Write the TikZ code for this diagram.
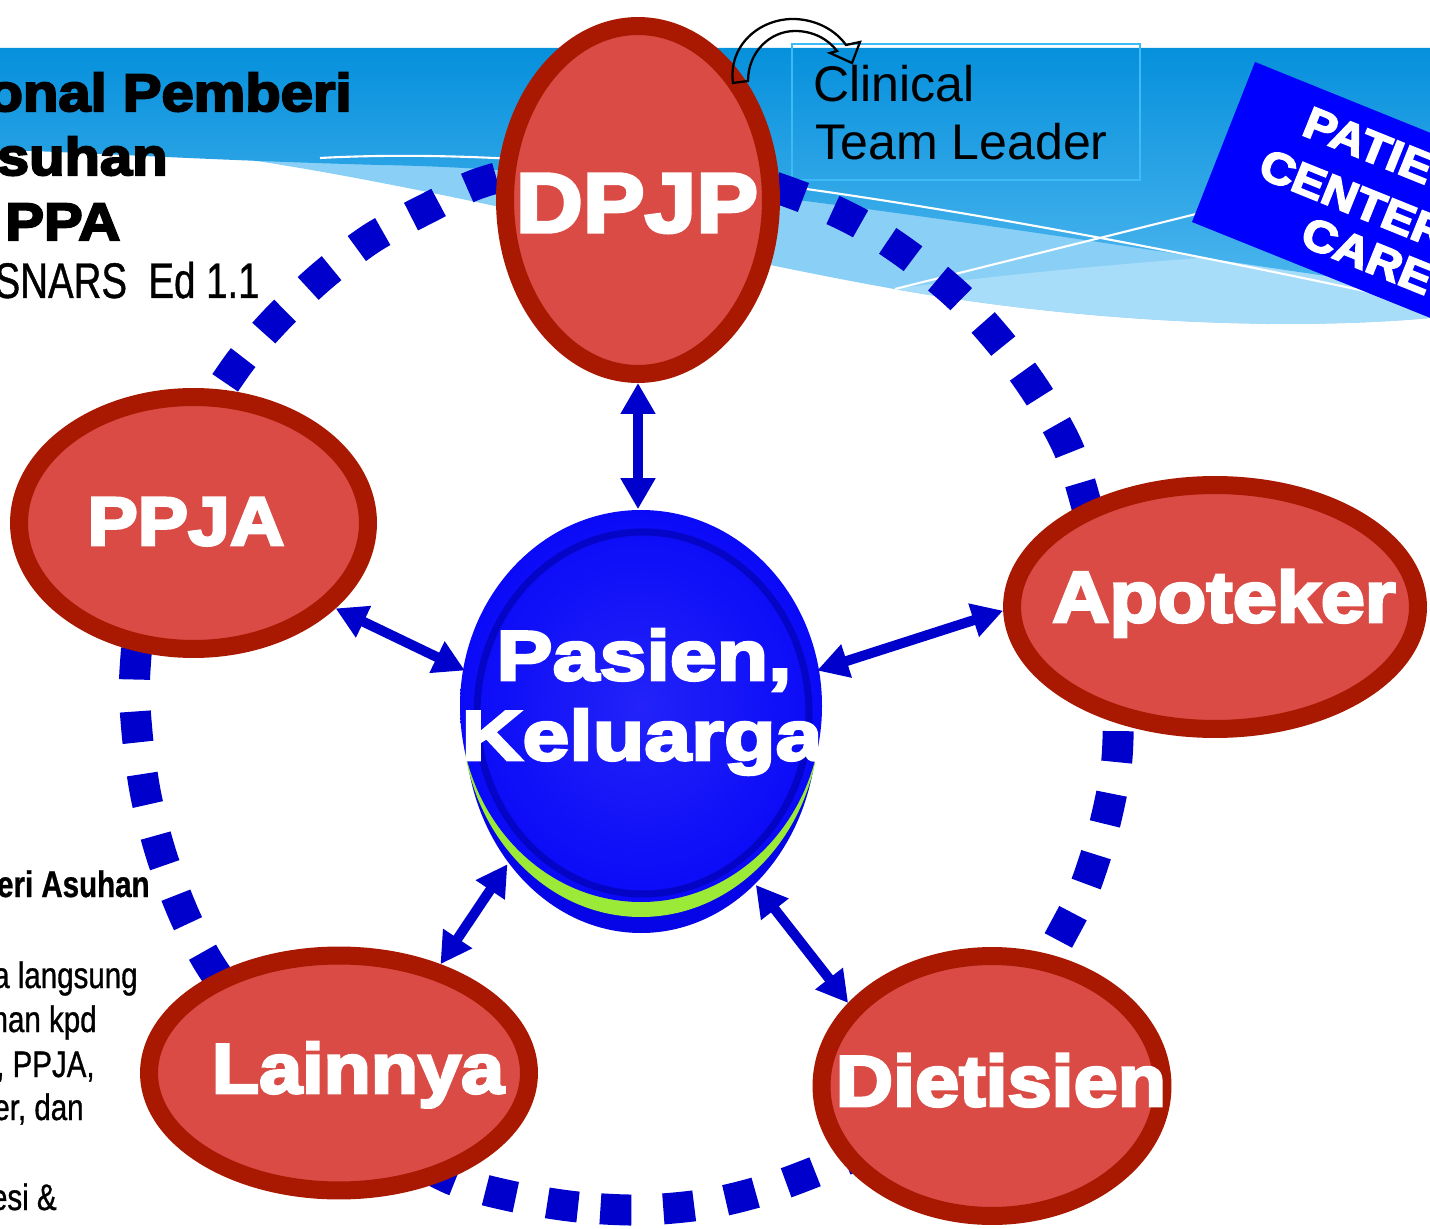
\documentclass[tikz,border=0pt]{standalone}
\usepackage{fontspec}
\setmainfont{Liberation Sans}
\newfontfamily\heavyfont{Liberation Sans}[BoldFeatures={FakeBold=4,FakeStretch=1.1}]
\newfontfamily\heavywidefont{Liberation Sans}[BoldFeatures={FakeBold=4,FakeStretch=1.2}]
\newfontfamily\narrowsans{Liberation Sans}[FakeStretch=0.8,FakeBold=0.8]
\usetikzlibrary{shapes.geometric,arrows.meta}
\definecolor{ringred}{HTML}{A91800}
\definecolor{fillred}{HTML}{D94B44}
\definecolor{dotblue}{HTML}{0000CC}
\definecolor{ballblue}{HTML}{0A0AF8}
\definecolor{balldark}{HTML}{0000A0}
\definecolor{ballbase}{HTML}{0505E8}
\definecolor{ballgreen}{HTML}{9BEA38}
\definecolor{pccblue}{HTML}{0000FF}
\definecolor{bannertop}{HTML}{0690DC}
\definecolor{bannerbot}{HTML}{4DB6EE}
\definecolor{bandlight}{HTML}{8AD0F6}
\definecolor{lenslight}{HTML}{A8DDF9}
\definecolor{boxline}{HTML}{3DBBF7}
\tikzset{
  ppa/.style={ellipse, draw=ringred, fill=fillred, line width=0.36cm, inner sep=0pt},
  ppalabel/.style={anchor=base, text=white, inner sep=0pt},
  link/.style={draw=dotblue, line width=0.2cm,
    {Triangle[width=0.66cm,length=0.62cm]}-{Triangle[width=0.66cm,length=0.62cm]}},
  dotring/.style={draw=dotblue, line width=0.62cm, dash pattern=on 0.62cm off 0.64cm},
  titletext/.style={inner sep=0pt, text=black, font=\heavyfont\bfseries\fontsize{30}{30}\selectfont},
  sidetext/.style={inner sep=0pt, text=black, anchor=base east, font=\narrowsans\fontsize{21}{22}\selectfont},
  pcctext/.style={inner sep=0pt, text=white, anchor=base west, rotate=-22, font=\heavyfont\bfseries\fontsize{25}{25}\selectfont},
}
\begin{document}
\begin{tikzpicture}[x=0.02cm,y=-0.02cm]
\useasboundingbox (0,0) rectangle (1430,1229);
\clip (0,0) rectangle (1430,1229);
\fill[white] (0,0) rectangle (1430,1229);
% banner
\fill[bandlight] (250,160) .. controls (450,190) and (700,255) .. (900,290)
   .. controls (1100,325) and (1300,330) .. (1430,318) -- (1430,150) -- (250,120) -- cycle;
\fill[lenslight] (893,289) .. controls (1100,262) and (1300,250) .. (1430,245) -- (1430,318)
   .. controls (1300,330) and (1100,325) .. (893,289) -- cycle;
\shade[top color=bannertop, bottom color=bannerbot] (0,48) -- (1430,48) -- (1430,290)
   .. controls (1200,262) and (700,170) .. (380,165) .. controls (200,160) and (80,152) .. (0,150) -- cycle;
\draw[white, line width=1.2pt] (320,158) .. controls (560,145) and (900,190) .. (1430,305);
\draw[white, line width=1.2pt] (895,289) -- (1200,213);
% clinical team leader box
\node[draw=boxline, line width=1.2pt, minimum width=6.96cm, minimum height=2.72cm, inner sep=0pt] (ctl) at (966,112) {};
\node[anchor=base west, inner sep=0pt, font=\fontsize{28.5}{30}\selectfont] (ctl1) at (813,102) {Clinical};
\node[anchor=base west, inner sep=0pt, font=\fontsize{28.5}{30}\selectfont] (ctl2) at (815,160) {Team Leader};
% title texts
\node[titletext, anchor=base east] (t1) at (352,111) {onal Pemberi};
\node[titletext, anchor=base east] (t2) at (168,175) {suhan};
\node[titletext, anchor=base west] (t3) at (5,240) {PPA};
\node[inner sep=0pt, anchor=base east, font=\narrowsans\fontsize{28.5}{30}\selectfont] (t4) at (260,298) {\scalebox{0.96}[1]{SNARS\ \ Ed 1.1}};
% side texts
\node[sidetext, font=\narrowsans\bfseries\fontsize{21}{22}\selectfont] (s1) at (150,897) {eri Asuhan};
\node[sidetext] (s2) at (138,988) {a langsung};
\node[sidetext] (s3) at (97,1032) {han kpd};
\node[sidetext] (s4) at (95,1077) {, PPJA,};
\node[sidetext] (s5) at (84,1120) {er, dan};
\node[sidetext] (s6) at (57,1210) {esi \&};
% dotted ring
\draw[dotring] plot[smooth cycle] coordinates {
 (642,1210) (578,1207) (515,1197) (453,1180) (390,1145) (320,1095) (260,1032) (212,968)
 (185,917) (162,857) (146,796) (137,732) (135,670) (148,560) (185,450) (234,370) (274,322)
 (321,277) (372,238) (428,208) (480,183) (560,163) (640,156) (720,170) (802,197) (859,223)
 (912,258) (961,299) (1004,347) (1041,399) (1071,455) (1095,540) (1112,640) (1118,710)
 (1116,768) (1103,831) (1083,892) (1057,943) (1010,1030) (950,1095) (890,1140) (827,1167)
 (768,1189) (707,1204)};
% patient centered care banner
\fill[pccblue] (1255,62) -- (1192,222) -- (1500,346) -- (1500,161) -- cycle;
\node[pcctext] (p1) at (1300,134) {PATIE};
\node[pcctext] (p2) at (1256,176) {CENTER};
\node[pcctext] (p3) at (1298,244) {CARE};
% PPA ellipses
\node[ppa, minimum width=5.32cm, minimum height=6.96cm] (dpjp) at (638,200) {};
\node[ppa, minimum width=6.98cm, minimum height=5.04cm] (ppja) at (193.5,523) {};
\node[ppa, minimum width=8.12cm, minimum height=4.88cm] (apoteker) at (1215,607) {};
\node[ppa, minimum width=7.6cm, minimum height=4.7cm] (lainnya) at (339,1073) {};
\node[ppa, minimum width=6.82cm, minimum height=5.2cm] (dietisien) at (992,1086) {};
\node[ppalabel, font=\heavyfont\bfseries\fontsize{48}{48}\selectfont] (dpjp-t) at (637,232) {DPJP};
\node[ppalabel, font=\heavyfont\bfseries\fontsize{39}{39}\selectfont] (ppja-t) at (186,545) {PPJA};
\node[ppalabel, font=\heavyfont\bfseries\fontsize{41}{41}\selectfont] (apoteker-t) at (1224,622) {Apoteker};
\node[ppalabel, font=\heavyfont\bfseries\fontsize{40}{40}\selectfont] (lainnya-t) at (358,1093) {Lainnya};
\node[ppalabel, font=\heavyfont\bfseries\fontsize{41}{41}\selectfont] (dietisien-t) at (1001,1106) {Dietisien};
% centre ball
\fill[ballbase] (641,727) ellipse [x radius=176, y radius=206];
\fill[ballgreen] (641,716) ellipse [x radius=179, y radius=201];
\shade[inner color=ballblue!90!white, outer color=ballblue] (641,706) ellipse [x radius=181, y radius=196];
\draw[balldark, line width=4pt, opacity=0.55] (643,713) ellipse [x radius=166, y radius=181];
\node[ellipse, minimum width=7.24cm, minimum height=8.46cm, inner sep=0pt] (ball) at (641,721) {};
\node[ppalabel, font=\heavywidefont\bfseries\fontsize{40}{40}\selectfont] (pasien-t) at (644,680) {Pasien,};
\node[ppalabel, font=\heavywidefont\bfseries\fontsize{40}{40}\selectfont] (keluarga-t) at (642,760) {Keluarga};
% connectors
\draw[link] (dpjp.south) -- (dpjp.south |- ball.north);
\draw[link] (ppja.-31) -- (ball.164);
\draw[link] (apoteker.181) -- (ball.16);
\draw[link] (lainnya.47) -- (ball.227);
\draw[link] (dietisien.150) -- (ball.-55);
% curved block arrow
\draw[black, line width=1.3pt, line join=miter] (733,83) .. controls (728,45) and (760,18) .. (795,19)
  .. controls (818,20) and (836,31) .. (846,45) -- (860,42) -- (852,63) -- (830,53) -- (837,51)
  .. controls (828,39) and (813,31) .. (795,31) .. controls (770,31) and (748,52) .. (748,81) -- cycle;
\end{tikzpicture}
\end{document}
